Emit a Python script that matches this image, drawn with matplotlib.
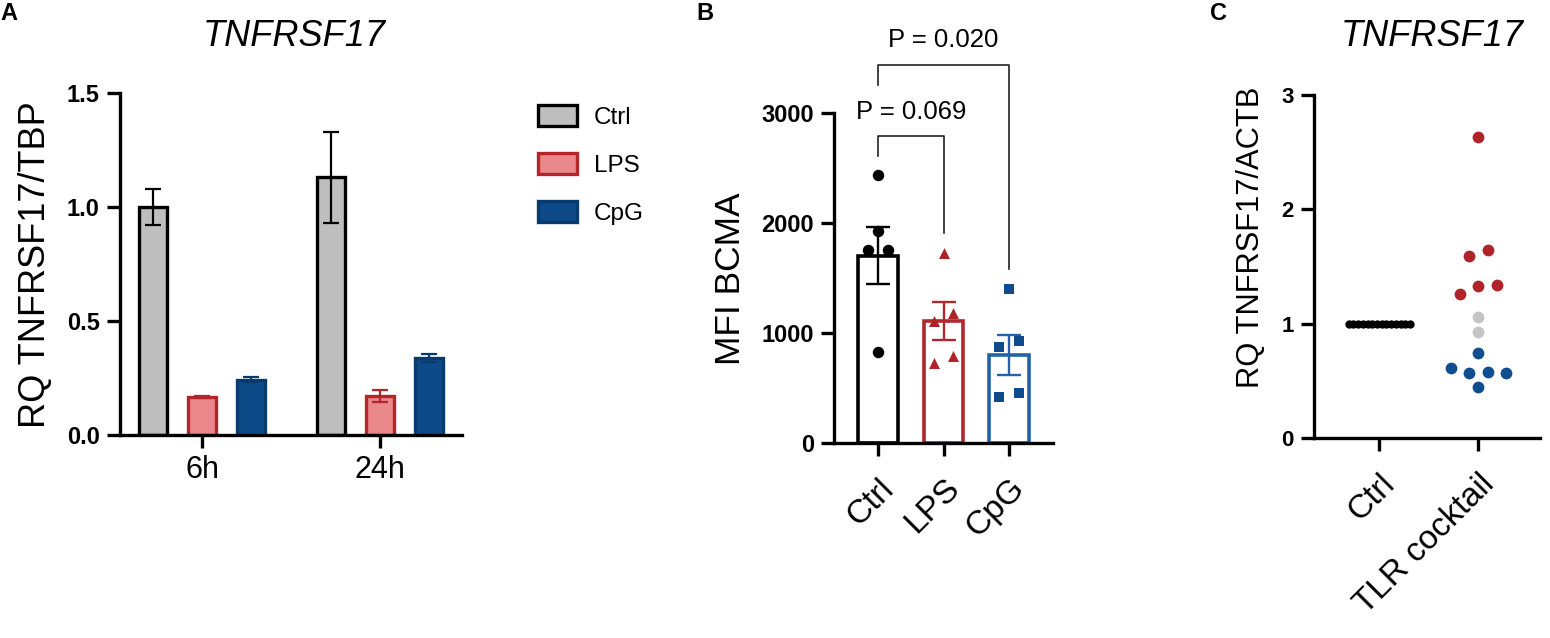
import matplotlib
matplotlib.use("Agg")
import matplotlib.pyplot as plt
import numpy as np

plt.rcParams['font.family'] = ['Liberation Sans', 'DejaVu Sans']

# panel A - qPCR over time
timepoints = ["6h", "24h"]
treatments = ["Ctrl", "LPS", "CpG"]
rq_ctrl = [1.00, 1.13]
rq_lps = [0.168, 0.172]
rq_cpg = [0.243, 0.338]
rq_ctrl_err = [0.08, 0.20]
rq_lps_err = [0.005, 0.027]
rq_cpg_err = [0.010, 0.017]

# panel B - flow cytometry MFI
mfi_groups = ["Ctrl", "LPS", "CpG"]
mfi_ctrl = [2440, 1930, 1760, 1760, 830]
mfi_lps = [1733, 1185, 1109, 724, 791]
mfi_cpg = [1403, 870, 930, 415, 457]
mfi_mean = [1705, 1110, 800]
mfi_sem = [260, 176, 180]
p_labels = ["P = 0.069", "P = 0.020"]
p_pairs = [(0, 1), (0, 2)]
bracket_top = [2790, 3440]

# panel C - TLR cocktail
c_groups = ["Ctrl", "TLR cocktail"]
c_ctrl = [1.0] * 14
c_red = [2.63, 1.594, 1.646, 1.261, 1.331, 1.34]
c_gray = [1.058, 0.932]
c_blue = [0.743, 0.612, 0.574, 0.582, 0.568, 0.451]

# horizontal scatter spread (layout only)
b_jit = [[0, 0, -0.15, 0.15, 0], [0, 0.15, -0.15, -0.15, 0.15], [0, -0.15, 0.15, -0.15, 0.15]]
c_red_jit = [0, -0.093, 0.093, -0.186, 0, 0.186]
c_gray_jit = [0, 0]
c_blue_jit = [0, -0.28, -0.093, 0.093, 0.28, 0]

W, H = 1550, 638
LW = 2.4


def style(ax, ylabsize=17):
    for s in ["top", "right"]:
        ax.spines[s].set_visible(False)
    for s in ["left", "bottom"]:
        ax.spines[s].set_linewidth(LW)
    ax.tick_params(width=LW, length=9.5, pad=5)
    for t in ax.get_yticklabels():
        t.set_fontweight("bold")
        t.set_fontsize(ylabsize)


def pix_axes(l, r, b, t):
    return fig.add_axes([l / W, 1 - b / H, (r - l) / W, (b - t) / H])


fig = plt.figure(figsize=(15.5, 6.38), dpi=100)

# ---------------- A ----------------
axA = pix_axes(120, 462, 435, 93)
x = np.arange(len(timepoints))
off = 0.274
bw = 0.16
specs = [(rq_ctrl, rq_ctrl_err, "#BEBEBE", "black", "black"),
         (rq_lps, rq_lps_err, "#E9878B", "#B3242B", "#B3242B"),
         (rq_cpg, rq_cpg_err, "#0C4A88", "#0A3A6C", "#0A3A6C")]
handles = []
for i, (vals, errs, fc, ec, errc) in enumerate(specs):
    bars = axA.bar(x + (i - 1) * off, vals, width=bw, color=fc, edgecolor=ec,
                   linewidth=LW, zorder=2, label=treatments[i])
    axA.errorbar(x + (i - 1) * off, vals, yerr=errs, fmt="none", ecolor=errc,
                 elinewidth=1.6, capsize=6, capthick=1.6, zorder=3)
    handles.append(bars)
axA.set_xlim(-0.4607, 1.4607)
axA.set_ylim(0, 1.5)
axA.set_yticks([0, 0.5, 1.0, 1.5])
axA.set_yticklabels(["0.0", "0.5", "1.0", "1.5"])
axA.set_xticks(x)
axA.set_xticklabels(timepoints, fontsize=22)
style(axA)
axA.legend(handles=handles, loc="upper left", bbox_to_anchor=(538 / W, 1 - 105 / H),
           bbox_transform=fig.transFigure, frameon=False, fontsize=17.5,
           handlelength=1.6, handleheight=0.93, handletextpad=0.7,
           labelspacing=1.0, borderpad=0, borderaxespad=0)
fig.text(294 / W, 1 - 36.5 / H, "TNFRSF17", style="italic", fontsize=26, ha="center", va="center")
fig.text(36 / W, 1 - 265 / H, "RQ TNFRSF17/TBP", rotation=90, fontsize=26, ha="center", va="center")

# ---------------- B ----------------
axB = pix_axes(834, 1053, 443, 113.3)
xb = np.arange(len(mfi_groups))
edge_b = ["black", "#B0282E", "#2362A6"]
mark_c = ["black", "#AE2228", "#0E4C8E"]
marks = ["o", "^", "s"]
sizes = [68, 62, 56]
for i, pts in enumerate([mfi_ctrl, mfi_lps, mfi_cpg]):
    axB.bar(xb[i], mfi_mean[i], width=0.6, color="white", edgecolor=edge_b[i],
            linewidth=2.6, zorder=2)
    axB.errorbar(xb[i], mfi_mean[i], yerr=mfi_sem[i], fmt="none", ecolor=edge_b[i],
                 elinewidth=1.7, capsize=8.4, capthick=1.7, zorder=3)
    axB.scatter(xb[i] + np.array(b_jit[i]), pts, marker=marks[i], s=sizes[i],
                color=mark_c[i], zorder=4, linewidths=0)
all_pts = [mfi_ctrl, mfi_lps, mfi_cpg]
for (a, b), top, lab in zip(p_pairs, bracket_top, p_labels):
    axB.plot([a, a, b, b], [top - 180, top, top, max(all_pts[b]) + 180],
             color="#222222", lw=1.2, clip_on=False, zorder=5)
    axB.text((a + b) / 2, top + 160, lab, ha="center", va="baseline", fontsize=18.5,
             clip_on=False)
axB.set_xlim(-0.672, 2.672)
axB.set_ylim(0, 3000)
axB.set_yticks([0, 1000, 2000, 3000])
axB.set_xticks(xb)
axB.set_xticklabels(mfi_groups, fontsize=24, rotation=45, ha="right", va="top",
                    rotation_mode="anchor")
style(axB)
axB.tick_params(axis="x", pad=12)
fig.text(731 / W, 1 - 278.5 / H, "MFI BCMA", rotation=90, fontsize=25.5, ha="center", va="center")

# ---------------- C ----------------
axC = pix_axes(1314, 1540, 438.3, 95)
axC.scatter(np.linspace(-0.31, 0.31, len(c_ctrl)), c_ctrl, s=36, color="black",
            linewidths=0, zorder=3)
axC.scatter(1 + np.array(c_red_jit), c_red, s=72, color="#B0232A", linewidths=0, zorder=3)
axC.scatter(1 + np.array(c_gray_jit), c_gray, s=72, color="#C4C4C4", linewidths=0, zorder=3)
axC.scatter(1 + np.array(c_blue_jit), c_blue, s=72, color="#0F4F8F", linewidths=0, zorder=3)
axC.set_xlim(-0.66, 1.623)
axC.set_ylim(0, 3)
axC.set_yticks([0, 1, 2, 3])
axC.set_xticks([0, 1])
axC.set_xticklabels(c_groups, fontsize=24, rotation=45, ha="right", va="top",
                    rotation_mode="anchor")
style(axC, ylabsize=16)
axC.tick_params(axis="x", pad=12)
fig.text(1432.5 / W, 1 - 37 / H, "TNFRSF17", style="italic", fontsize=26, ha="center", va="center")
fig.text(1251 / W, 1 - 237 / H, "RQ TNFRSF17/ACTB", rotation=90, fontsize=22.2, ha="center", va="center")

# panel letters
for px, lab in [(0, "A"), (696, "B"), (1210, "C")]:
    fig.text(px / W, 1 - 14 / H, lab, fontweight="bold", fontsize=17, ha="left", va="center")

fig.savefig("out.png", dpi=100)
